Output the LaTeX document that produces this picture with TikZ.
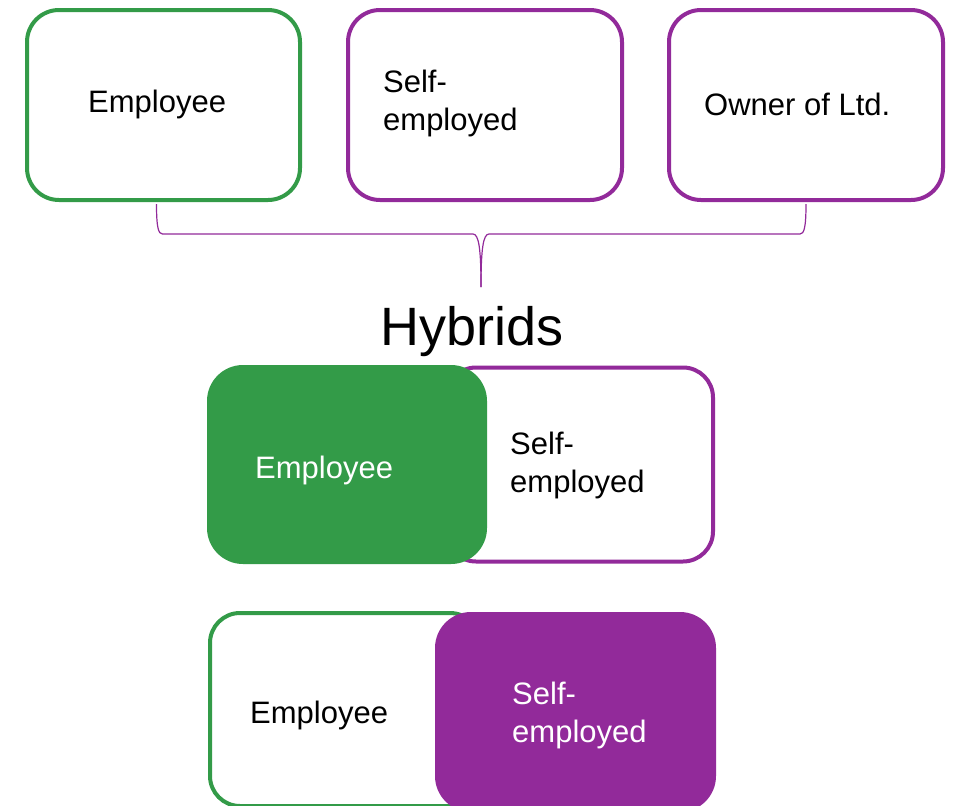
\documentclass[tikz,border=0pt]{standalone}
\usepackage{fontspec}
\setmainfont{Liberation Sans}
\definecolor{eg}{RGB}{51,155,72}
\definecolor{ep}{RGB}{146,42,154}
\tikzset{
  box/.style={draw, line width=4pt, rounded corners=32pt, fill=white, inner sep=0pt},
  fbox/.style={rounded corners=36pt, inner sep=0pt},
  lbl/.style={font=\fontsize{31}{38}\selectfont, anchor=base west, inner sep=0pt, align=left},
}
\begin{document}
\begin{tikzpicture}[x=1pt,y=-1pt]
\clip (0,0) rectangle (956,806);
\fill[white] (0,0) rectangle (956,806);
% top row
\node[box, draw=eg, minimum width=273pt, minimum height=190pt] (b1) at (163.5,105) {};
\node[box, draw=ep, minimum width=274pt, minimum height=190pt] (b2) at (485,105) {};
\node[box, draw=ep, minimum width=274pt, minimum height=190pt] (b3) at (806,105) {};
\node[lbl] (t1) at (88,112) {Employee};
\node[lbl] (t2) at (383,130) {Self-\\employed};
\node[lbl] (t3) at (704,115) {Owner of Ltd.};
% brace
\coordinate (bt) at (481,287);
\draw[ep, line width=1.2pt]
  ([xshift=-7pt,yshift=-2pt]b1.south) .. controls ([xshift=-7pt,yshift=-26pt]b1.south) and ([xshift=-5pt,yshift=-32pt]b1.south) .. ([xshift=-1pt,yshift=-32pt]b1.south)
  -- (473,234) .. controls (479,234) and (481,250) .. (bt);
\draw[ep, line width=1.2pt]
  ([xshift=0pt,yshift=-2pt]b3.south) .. controls ([xshift=0pt,yshift=-26pt]b3.south) and ([xshift=-2pt,yshift=-32pt]b3.south) .. ([xshift=-6pt,yshift=-32pt]b3.south)
  -- (489,234) .. controls (483,234) and (481,250) .. (bt);
\node[font=\fontsize{54}{60}\selectfont, anchor=base, inner sep=0pt] (hy) at (472,345) {Hybrids};
% hybrid 1
\node[box, draw=ep, rounded corners=30pt, minimum width=267pt, minimum height=194pt] (h1p) at (579.5,464.5) {};
\node[fbox, fill=eg, minimum width=280pt, minimum height=199pt] (h1g) at (347,464.5) {};
\node[lbl, text=white] (h1t1) at (255,478) {Employee};
\node[lbl] (h1t2) at (510,492) {Self-\\employed};
% hybrid 2
\node[box, draw=eg, rounded corners=30pt, minimum width=270pt, minimum height=193pt] (h2g) at (345,709.5) {};
\node[fbox, fill=ep, minimum width=281pt, minimum height=200pt] (h2p) at (575.5,712) {};
\node[lbl] (h2t1) at (250,723) {Employee};
\node[lbl, text=white] (h2t2) at (512,742) {Self-\\employed};
\end{tikzpicture}
\end{document}
